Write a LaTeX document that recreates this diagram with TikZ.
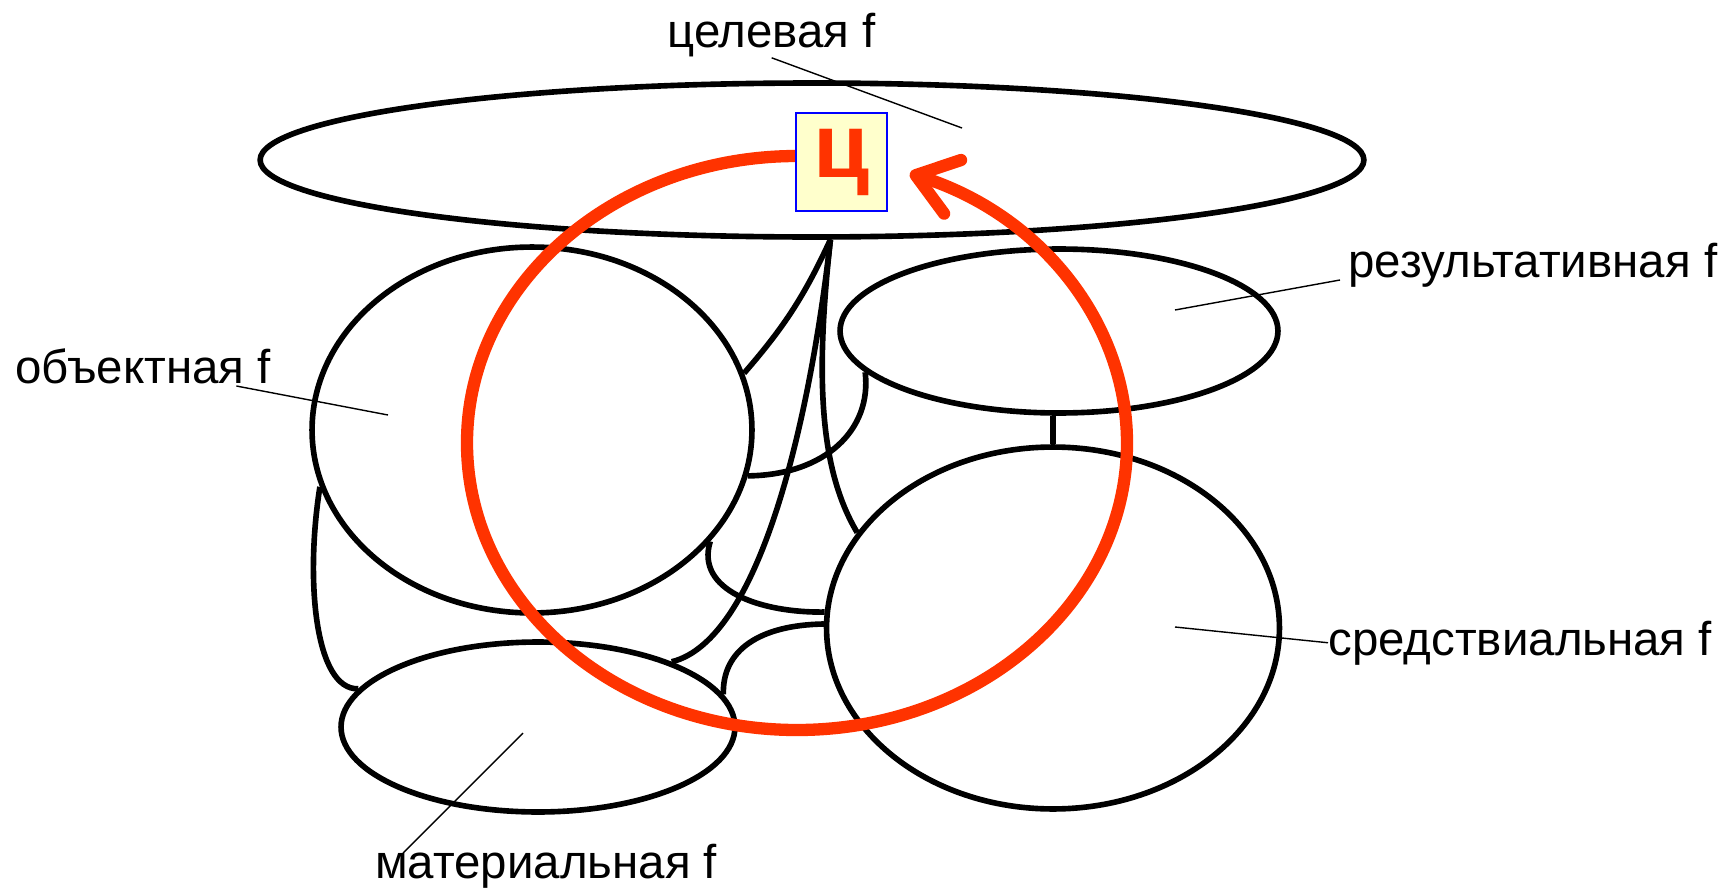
\documentclass[tikz,border=0pt]{standalone}
\usepackage{fontspec}
\setmainfont{Liberation Sans}
\usetikzlibrary{shapes.geometric,arrows.meta}

\definecolor{krasnyj}{RGB}{255,51,0}
\definecolor{zhyoltyj}{RGB}{255,255,204}

\tikzset{
	funkcija/.style={draw,ellipse,line width=3.2pt,inner sep=0pt},
	svjaz/.style={line width=3.2pt},
	vynoska/.style={line width=0.8pt},
	podpis/.style={anchor=base west,inner sep=0pt,font=\fontsize{27}{32}\selectfont},
	cikl/.style={draw=krasnyj,line width=7pt,-{Straight Barb[length=22pt,width=32pt,round]}},
}

\begin{document}
\begin{tikzpicture}[x=0.02cm,y=0.02cm]
		\useasboundingbox (0,0) rectangle (1725,-889);

		%Funkcii
		\node [funkcija,minimum width=22.08cm,minimum height=3.08cm] (celevaya) at (812,-160) {};
		\node [funkcija,minimum width=8.8cm,minimum height=7.32cm] (objekt) at (532,-430) {};
		\node [funkcija,minimum width=8.76cm,minimum height=3.28cm] (rezult) at (1059,-331) {};
		\node [funkcija,minimum width=9.06cm,minimum height=7.24cm] (sredstv) at (1053,-628) {};
		\node [funkcija,minimum width=7.88cm,minimum height=3.4cm] (material) at (538,-727) {};

		%Svjazi
		\draw[svjaz] (celevaya.283) to[bend left=8] (objekt.15);
		\draw[svjaz] (celevaya.283) .. controls (810,-420) and (760,-640) .. (material.26);
		\draw[svjaz] (celevaya.283) .. controls (815,-380) and (820,-470) .. (sredstv.154);
		\draw[svjaz] (objekt.348) .. controls (825,-475) and (872,-430) .. (rezult.192);
		\draw[svjaz] (objekt.328) .. controls (695,-590) and (760,-613) .. (sredstv.176);
		\draw[svjaz] (sredstv.179) .. controls (760,-625) and (722,-650) .. (material.10);
		\draw[svjaz] (objekt.195) .. controls (305,-580) and (315,-690) .. (material.168);
		\draw[svjaz] (sredstv.north) -- (sredstv.north |- rezult.south);

		%Podpisi
		\node [podpis] (lblcel) at (667,-48) {целевая f};
		\node [podpis] (lblrez) at (1348,-277) {результативная f};
		\node [podpis] (lblobj) at (15,-383) {объектная f};
		\node [podpis] (lblsred) at (1328,-655) {средствиальная f};
		\node [podpis] (lblmat) at (375,-878) {материальная f};

		\coordinate (vcel) at (962,-128);
		\coordinate (vrez) at (1175,-310);
		\coordinate (vobj) at (388,-415);
		\coordinate (vsred) at (1175,-627);
		\coordinate (vmat) at (523,-733);

		\draw[vynoska] (lblcel.south) -- (vcel);
		\draw[vynoska] ([shift={(-8,-3)}]lblrez.base west) -- (vrez);
		\draw[vynoska] ([shift={(-35,-3)}]lblobj.base east) -- (vobj);
		\draw[vynoska] (lblsred.west) -- (vsred);
		\draw[vynoska] ([shift={(28,25)}]lblmat.base west) -- (vmat);

		%Cikl
		\draw[cikl] (797,-156) arc[start angle=90,end angle=430,x radius=330,y radius=287];
		\node [draw=blue,line width=1.1pt,fill=zhyoltyj,minimum width=1.82cm,minimum height=1.96cm,inner sep=0pt,
			text=krasnyj,font=\bfseries\fontsize{52}{52}\selectfont] (cel) at (841.5,-162) {ц};
\end{tikzpicture}
\end{document}
